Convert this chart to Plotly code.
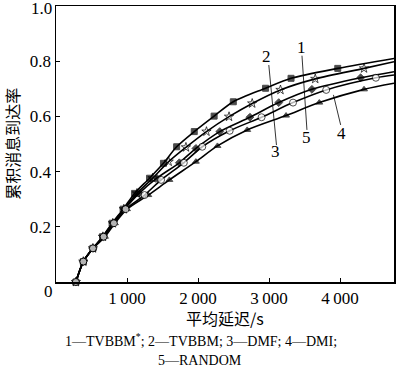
import plotly.graph_objects as go

# --- data ---
x1 = [280, 385, 520, 655, 790, 945, 1106, 1317, 1513, 1699, 1947, 2227, 2497, 2951, 3310, 3968, 4760]
y1 = [0, 0.074, 0.122, 0.164, 0.213, 0.264, 0.321, 0.376, 0.430, 0.490, 0.545, 0.601, 0.653, 0.702, 0.738, 0.774, 0.81]

x2 = [280, 385, 520, 660, 800, 955, 1140, 1360, 1587, 1830, 2119, 2437, 2763, 3161, 3651, 4338, 4760]
y2 = [0, 0.074, 0.122, 0.164, 0.213, 0.264, 0.321, 0.376, 0.436, 0.488, 0.545, 0.599, 0.647, 0.696, 0.736, 0.774, 0.798]

x3 = [280, 385, 520, 665, 805, 965, 1170, 1420, 1737, 1970, 2306, 2731, 3137, 3604, 4290, 4760]
y3 = [0, 0.074, 0.122, 0.164, 0.213, 0.264, 0.321, 0.376, 0.432, 0.484, 0.545, 0.597, 0.650, 0.698, 0.740, 0.762]

x4 = [280, 385, 525, 690, 830, 1000, 1300, 1597, 1970, 2274, 2693, 3240, 3708, 4338, 4760]
y4 = [0, 0.074, 0.122, 0.164, 0.213, 0.264, 0.315, 0.370, 0.436, 0.493, 0.551, 0.603, 0.650, 0.698, 0.72]

x5 = [280, 385, 520, 670, 815, 980, 1247, 1480, 1800, 2060, 2446, 2895, 3338, 3805, 4505, 4760]
y5 = [0, 0.074, 0.122, 0.164, 0.213, 0.264, 0.315, 0.370, 0.432, 0.490, 0.548, 0.597, 0.650, 0.696, 0.740, 0.75]

xtick_vals = [1000, 2000, 3000, 4000]
xtick_text = ["1\u2009000", "2\u2009000", "3\u2009000", "4\u2009000"]
ytick_vals = [0.2, 0.4, 0.6, 0.8, 1.0]
ytick_text = ["0.2", "0.4", "0.6", "0.8", ""]
top_label = "1.0"

series = [
    (x1, y1, "square", "black", 6),
    (x2, y2, "star-open", "black", 7),
    (x3, y3, "diamond", "black", 6),
    (x4, y4, "triangle-up", "black", 6),
    (x5, y5, "circle", "white", 7),
]

SERIF = "Liberation Serif, Times New Roman, serif"
CJK = "Noto Sans CJK SC"

fig = go.Figure()
for xs, ys, sym, col, sz in series:
    sizes = [sz] * (len(xs) - 1) + [0]
    fig.add_trace(go.Scatter(
        x=xs, y=ys, mode="lines+markers",
        line=dict(color="black", width=1.6, shape="spline", smoothing=0.8),
        marker=dict(symbol=sym, size=sizes, color=col,
                    line=dict(color="black", width=1)),
        showlegend=False, cliponaxis=False, hoverinfo="skip",
    ))

# leader lines
leaders = [
    ((2997, 0.786), (3105, 0.496)),
    ((3464, 0.820), (3534, 0.551)),
    ((4009, 0.569), (3907, 0.678)),
]
for (xa, ya), (xb, yb) in leaders:
    fig.add_shape(type="line", x0=xa, y0=ya, x1=xb, y1=yb,
                  line=dict(color="black", width=0.8), xref="x", yref="y")

labels = [("2", 2965, 0.816), ("1", 3464, 0.849), ("3", 3091, 0.472),
          ("5", 3534, 0.523), ("4", 4027, 0.537)]
for t, lx, ly in labels:
    fig.add_annotation(x=lx, y=ly, text=t, showarrow=False,
                       font=dict(family=SERIF, size=17, color="black"))

# shared origin label and top y label
fig.add_annotation(xref="paper", yref="paper", x=0.0, y=-0.035, text="0",
                   showarrow=False, xanchor="right", yanchor="middle", xshift=-1,
                   font=dict(family=SERIF, size=17, color="black"))
fig.add_annotation(xref="paper", yref="paper", x=0.0, y=1.0, text=top_label,
                   showarrow=False, xanchor="right", yanchor="middle", xshift=-2, yshift=-2,
                   font=dict(family=SERIF, size=17, color="black"))
# axis titles
fig.add_annotation(xref="paper", yref="paper", x=-0.129, y=0.502, text="累积消息到达率",
                   textangle=-90, showarrow=False, xanchor="center", yanchor="middle",
                   font=dict(family=CJK, size=16, color="black"))
fig.add_annotation(xref="paper", yref="paper", x=0.5, y=-0.13, text="平均延迟/s",
                   showarrow=False, xanchor="center", yanchor="middle",
                   font=dict(family=CJK + ", " + SERIF, size=16, color="black"))
fig.add_annotation(xref="paper", yref="paper", x=0.428, y=-0.21,
                   text="1—TVBBM<sup>*</sup>; 2—TVBBM; 3—DMF; 4—DMI;",
                   showarrow=False, xanchor="center", yanchor="middle",
                   font=dict(family=SERIF, size=14, color="black"))
fig.add_annotation(xref="paper", yref="paper", x=0.425, y=-0.286,
                   text="5—RANDOM",
                   showarrow=False, xanchor="center", yanchor="middle",
                   font=dict(family=SERIF, size=14, color="black"))

axis_common = dict(showline=True, linecolor="black", linewidth=1.5, mirror=True,
                   ticks="inside", ticklen=4, tickcolor="black", tickwidth=1,
                   showgrid=False, zeroline=False,
                   tickfont=dict(family=SERIF, size=17, color="black"))
fig.update_xaxes(range=[0, 4760], tickvals=xtick_vals, ticktext=xtick_text, **axis_common)
fig.update_yaxes(range=[0, 1.0], tickvals=ytick_vals, ticktext=ytick_text, **axis_common)

fig.update_layout(width=400, height=372, margin=dict(l=56, r=4, t=6, b=90),
                  plot_bgcolor="white", paper_bgcolor="white", hovermode=False)

fig.write_html("out.html", config={"displayModeBar": False, "staticPlot": True},
               post_script="document.body.style.margin='0';document.body.style.overflow='hidden';")
